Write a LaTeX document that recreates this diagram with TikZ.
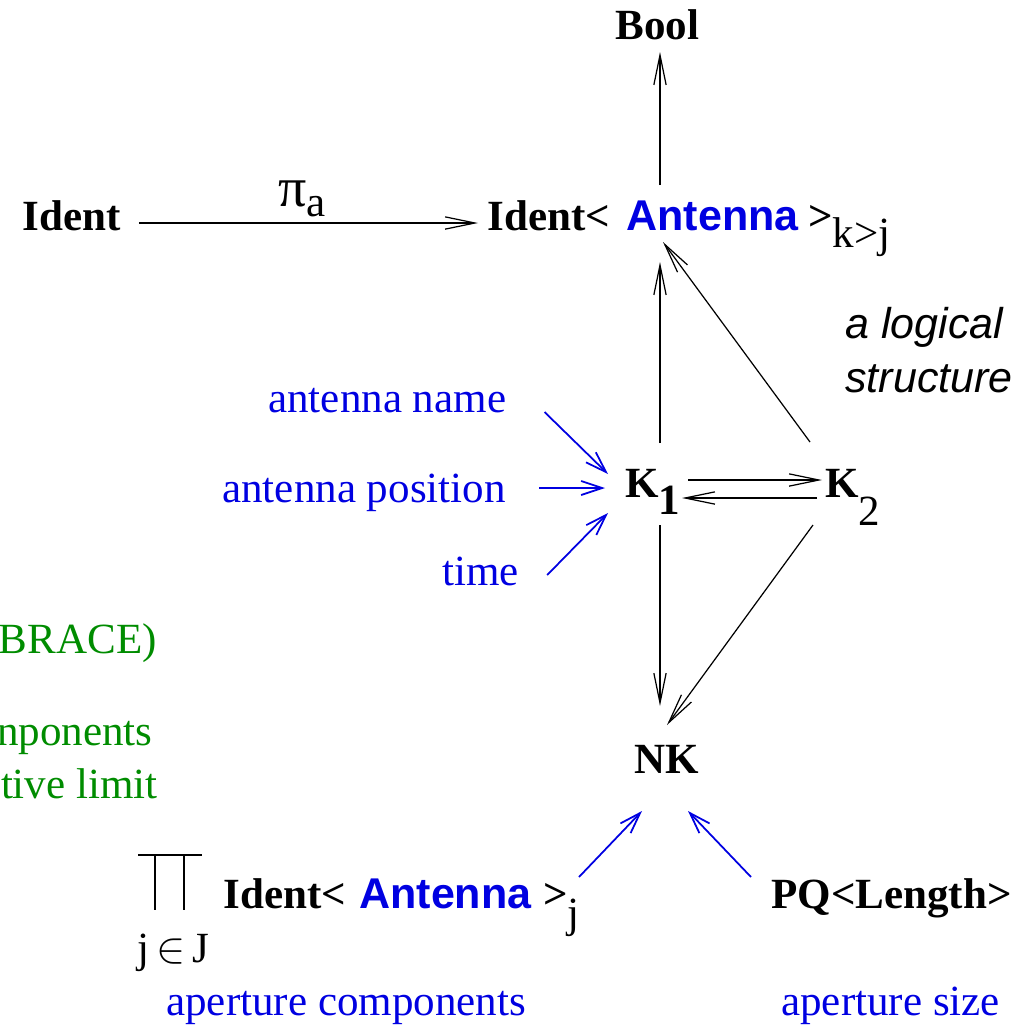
\documentclass[tikz,border=0pt]{standalone}
\usepackage{fontspec}
\setmainfont{Liberation Serif}
\setsansfont{Liberation Sans}
\usepackage{xcolor}
\usepackage{tikz}
\usetikzlibrary{calc,arrows.meta}

\definecolor{antblue}{RGB}{0,0,225}
\definecolor{notegreen}{RGB}{0,140,0}
\newcommand{\dsize}{\fontsize{24.5}{29}\selectfont}
\newcommand{\sunk}[2]{\raisebox{-#1}{#2}}

\begin{document}
\begin{tikzpicture}[x=0.02cm, y=-0.02cm, color=black, font=\dsize,
		every node/.style={inner sep=0pt, anchor=base west},
		obj/.style={font=\dsize\bfseries},
		ant/.style={text=antblue, font=\dsize\sffamily\bfseries},
		note/.style={text=antblue},
		grn/.style={text=notegreen, anchor=base east},
		arr/.style={-{Straight Barb[length=17pt,width=7pt]}, line width=0.7pt},
		inarr/.style={-{Straight Barb[length=12pt,width=8pt]}, draw=antblue, line width=1pt}]
		\useasboundingbox (0,0) rectangle (1019,1029);
		\clip (0,0) rectangle (1019,1029);

		% top row
		\node[obj] (bool) at (615,39) {Bool};
		\node[obj] (idl) at (22,230) {Ident};
		\node (pia) at (278,206) {\scalebox{1.3}{π}\sunk{6pt}{a}};
		\node[obj] (idt) at (487,230) {Ident<};
		\node[ant] (ant) at (626,230) {Antenna};
		\node[obj] (kj) at (808,230) {>\sunk{10pt}{\mdseries k>j}};

		\node[font=\dsize\sffamily\itshape] (logic1) at (845,338) {a logical};
		\node[font=\dsize\sffamily\itshape] (logic2) at (845,392) {structure};

		% the two keys
		\node[obj] (k1) at (625,497) {K\sunk{10pt}{1}};
		\node[obj] (k2) at (825,497) {K\sunk{16pt}{\mdseries 2}};
		\node[obj] (nk) at (634,773) {NK};

		\node[note] (aname) at (268,412) {antenna name};
		\node[note] (apos) at (222,502) {antenna position};
		\node[note] (time) at (442,585) {time};

		\node[grn] (g1) at (157,653) {BRACE)};
		\node[grn] (g2) at (153,745) {nponents};
		\node[grn] (g3) at (158,798) {tive limit};

		% bottom row
		\draw[line width=0.8pt] (138,855) -- (202,855) (155,855) -- (155,910) (184,855) -- (184,910);
		\node (jin) at (137,962) {j\,$\in$\,J};
		\node[obj] (bid) at (223,908) {Ident<};
		\node[ant] (bant) at (359,908) {Antenna};
		\node[obj] (bgt) at (543,908) {>\sunk{11pt}{\mdseries j}};
		\node[obj] (pq) at (771,908) {PQ<Length>};
		\node[note] (apc) at (166,1015) {aperture components};
		\node[note] (aps) at (781,1015) {aperture size};

		% arrows
		\draw[arr] ($(idl.base east)+(18,-7)$) -- ($(idt.base west)+(-9,-7)$);
		\draw[arr] ($(ant.base west)+(34,-45)$) -- ($(bool.base west)+(45,13)$);
		\draw[arr] ($(k1.base west)+(35,-54)$) -- ($(ant.base west)+(34,32)$);
		\draw[arr] ($(k2.base west)+(-15,-55)$) -- ($(ant.base west)+(37,12)$);
		\draw[arr] ($(k1.base west)+(63,-17)$) -- ($(k2.base west)+(-3,-17)$);
		\draw[arr] ($(k2.base west)+(-8,1)$) -- ($(k1.base west)+(57,1)$);
		\draw[arr] ($(k1.base west)+(35,28)$) -- ($(nk.base west)+(26,-67)$);
		\draw[arr] ($(k2.base west)+(-12,28)$) -- ($(nk.base west)+(33,-48)$);

		\draw[inarr] ($(aname.base east)+(38,0)$) -- ($(k1.base west)+(-17,-23)$);
		\draw[inarr] ($(apos.base east)+(33,-14)$) -- ($(k1.base west)+(-20,-9)$);
		\draw[inarr] ($(time.base east)+(28,-10)$) -- ($(k1.base west)+(-17,16)$);
		\draw[inarr] ($(bgt.base west)+(36,-31)$) -- ($(nk.base west)+(8,38)$);
		\draw[inarr] ($(pq.base west)+(-20,-31)$) -- ($(nk.base west)+(54,38)$);
	\end{tikzpicture}
\end{document}
